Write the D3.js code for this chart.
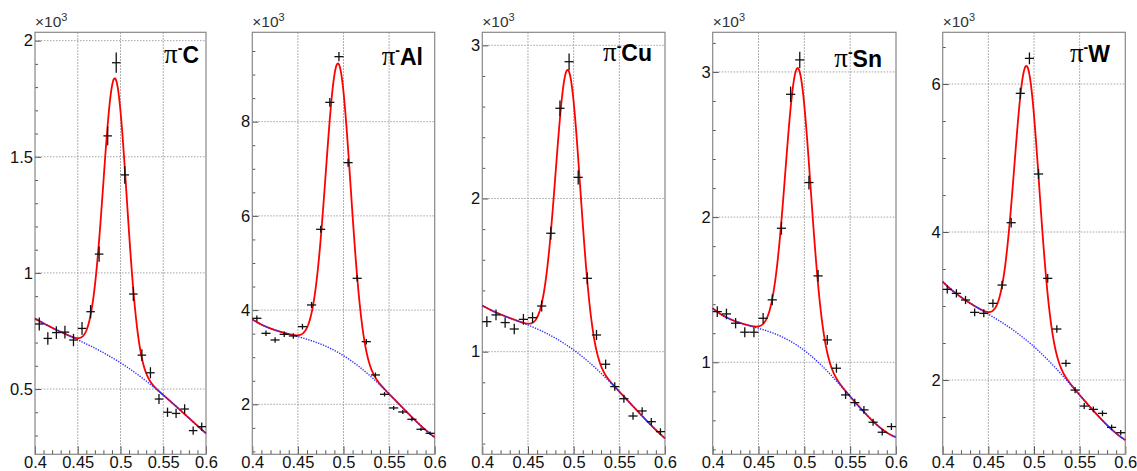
<!DOCTYPE html>
<html>
<head>
<meta charset="utf-8">
<script src="https://cdn.jsdelivr.net/npm/d3@7.9.0/dist/d3.min.js"></script>
<style>
  body { margin: 0; background: #fff; }
  svg { display: block; font-family: "Liberation Sans", Arial, sans-serif; }
</style>
</head>
<body>
<svg id="chart" width="1137" height="471"></svg>
<script>
// invariant mass bins (GeV), 0.01 wide
const targets = ['C', 'Al', 'Cu', 'Sn', 'W'];
const binCenters = [0.405, 0.415, 0.425, 0.435, 0.445, 0.455, 0.465, 0.475, 0.485, 0.495,
                    0.505, 0.515, 0.525, 0.535, 0.545, 0.555, 0.565, 0.575, 0.585, 0.595];

const countsC  = [780, 718, 743, 745, 711, 761, 833, 1081, 1590, 1905,
                  1422, 909, 646, 570, 457, 400, 395, 414, 321, 338];
const countsAl = [3826, 3507, 3366, 3486, 3451, 3649, 4109, 5715, 8410, 9380,
                  7130, 4675, 3330, 2623, 2213, 1923, 1838, 1682, 1470, 1385];
const countsCu = [1196, 1240, 1190, 1148, 1211, 1222, 1298, 1773, 2589, 2893,
                  2138, 1479, 1109, 918, 772, 693, 580, 613, 543, 478];
const countsSn = [1349, 1333, 1269, 1207, 1207, 1303, 1430, 1923, 2846, 3083,
                  2238, 1595, 1154, 959, 775, 722, 672, 587, 518, 557];
const countsW  = [3225, 3171, 3081, 2914, 2901, 3036, 3283, 4126, 5874, 6347,
                  4784, 3374, 2689, 2225, 1864, 1648, 1603, 1549, 1360, 1288];
const allCounts = [countsC, countsAl, countsCu, countsSn, countsW];

// fit: gaussian peak + pol4 background in t = (m - 0.5) / 0.1
const peakAmp   = [1210, 6136, 1802, 1913, 3709];
const peakMean  = [0.4936, 0.4942, 0.4938, 0.4931, 0.4921];
const peakSigma = [0.0136, 0.0135, 0.0134, 0.0137, 0.0135];
const bkgC  = [613, -234.8, -87.8, -12.7, 31.3];
const bkgAl = [3033, -1205.2, -930.5, -47.3, 450];
const bkgCu = [1011, -435.5, -242.8, 2, 99.3];
const bkgSn = [1081, -478.7, -386.3, 34.7, 233.3];
const bkgW  = [2450, -1100.7, -504.3, 30.7, 313.3];
const allBkg = [bkgC, bkgAl, bkgCu, bkgSn, bkgW];

// axes
const xRange = [0.4, 0.6];
const xMajor = [0.4, 0.45, 0.5, 0.55, 0.6];
const yDomains = [[219, 2036], [939, 9897], [330, 3085], [366, 3273], [996, 6699]];
const yMajor = [[500, 1000, 1500, 2000], [2000, 4000, 6000, 8000], [1000, 2000, 3000],
                [1000, 2000, 3000], [2000, 4000, 6000]];
const yMinorStep = [100, 500, 200, 200, 500];

// pad layout (px)
const frameLeft  = [35, 252.3, 482.3, 712.7, 942.7];
const frameRight = [206, 434.7, 665, 896, 1125.3];
const frameTop = 32.3, frameBottom = 454.3;
const titleRight = [199, 423, 652, 882, 1110];
const titleBase  = [63, 65, 61, 66.5, 62];

const svg = d3.select('#chart');

function bkgAt(c, m) {
  const t = (m - 0.5) / 0.1;
  return c[0] + c[1] * t + c[2] * t * t + c[3] * t * t * t + c[4] * t * t * t * t;
}

targets.forEach((name, i) => {
  const x = d3.scaleLinear().domain(xRange).range([frameLeft[i], frameRight[i]]);
  const y = d3.scaleLinear().domain(yDomains[i]).range([frameBottom, frameTop]);
  const g = svg.append('g');

  // grid
  g.selectAll('line.gx')
    .data(xMajor.slice(1, -1))
    .join('line')
    .attr('x1', d => x(d)).attr('x2', d => x(d))
    .attr('y1', frameTop).attr('y2', frameBottom)
    .attr('stroke', '#8a8a8a').attr('stroke-width', 0.9)
    .attr('stroke-dasharray', '1.5,1.5');
  g.selectAll('line.gy')
    .data(yMajor[i])
    .join('line')
    .attr('x1', frameLeft[i]).attr('x2', frameRight[i])
    .attr('y1', d => y(d)).attr('y2', d => y(d))
    .attr('stroke', '#9a9a9a').attr('stroke-width', 0.9)
    .attr('stroke-dasharray', '1.5,1.5');

  // x axis (ticks inside frame)
  const xMinor = d3.range(40, 61).filter(k => k % 5 !== 0).map(k => k / 100);
  const xAxisG = g.append('g').attr('transform', `translate(0,${frameBottom})`);
  xAxisG.call(d3.axisBottom(x).tickValues(xMajor).tickSize(-8).tickPadding(1.5)
    .tickFormat(d3.format('~g')));
  xAxisG.append('g').call(d3.axisBottom(x).tickValues(xMinor).tickSize(-4).tickFormat(''))
    .select('.domain').remove();
  xAxisG.select('.domain').remove();

  // y axis
  const [lo, hi] = yDomains[i];
  const step = yMinorStep[i];
  const yMinor = d3.range(Math.ceil(lo / step), Math.floor(hi / step) + 1)
    .map(k => k * step)
    .filter(v => !yMajor[i].includes(v));
  const yAxisG = g.append('g').attr('transform', `translate(${frameLeft[i]},0)`);
  yAxisG.call(d3.axisLeft(y).tickValues(yMajor[i]).tickSize(-6).tickPadding(2)
    .tickFormat(d => d3.format('~g')(d / 1000)));
  yAxisG.append('g').call(d3.axisLeft(y).tickValues(yMinor).tickSize(-3).tickFormat(''))
    .select('.domain').remove();
  yAxisG.select('.domain').remove();

  svg.selectAll('.tick line').attr('stroke', '#555');
  g.selectAll('.tick text').attr('font-size', 16.5).attr('fill', '#111')
    .attr('font-family', '"Liberation Sans", Arial, sans-serif');

  // frame
  g.append('rect')
    .attr('x', frameLeft[i]).attr('y', frameTop)
    .attr('width', frameRight[i] - frameLeft[i]).attr('height', frameBottom - frameTop)
    .attr('fill', 'none').attr('stroke', '#888').attr('stroke-width', 1.2);

  // x10^3 label
  const exp = g.append('text')
    .attr('x', frameLeft[i]).attr('y', 27)
    .attr('font-size', 15.5).attr('fill', '#333');
  exp.append('tspan').text('\u00d710');
  exp.append('tspan').attr('dy', -6).attr('font-size', 11).text('3');

  // fit curves
  const ms = d3.range(0, 401).map(k => xRange[0] + k * (xRange[1] - xRange[0]) / 400);
  const c = allBkg[i];
  const total = m => bkgAt(c, m) +
    peakAmp[i] * Math.exp(-0.5 * Math.pow((m - peakMean[i]) / peakSigma[i], 2));

  g.append('path')
    .attr('d', d3.line().x(m => x(m)).y(m => y(total(m)))(ms))
    .attr('fill', 'none').attr('stroke', '#ff0000').attr('stroke-width', 1.8);
  g.append('path')
    .attr('d', d3.line().x(m => x(m)).y(m => y(bkgAt(c, m)))(ms))
    .attr('fill', 'none').attr('stroke', '#2a2aff').attr('stroke-width', 1.4)
    .attr('stroke-dasharray', '1.3,1.3');

  // data points with errors
  const pts = binCenters.map((m, k) => ({ m, n: allCounts[i][k] }));
  const pg = g.append('g').attr('stroke', '#111').attr('stroke-width', 1.3);
  pg.selectAll('line.h')
    .data(pts)
    .join('line')
    .attr('x1', d => x(d.m - 0.005)).attr('x2', d => x(d.m + 0.005))
    .attr('y1', d => y(d.n)).attr('y2', d => y(d.n));
  pg.selectAll('line.v')
    .data(pts)
    .join('line')
    .attr('x1', d => x(d.m)).attr('x2', d => x(d.m))
    .attr('y1', d => y(d.n - Math.sqrt(d.n))).attr('y2', d => y(d.n + Math.sqrt(d.n)));

  // title
  const t = g.append('text')
    .attr('x', titleRight[i]).attr('y', titleBase[i])
    .attr('text-anchor', 'end').attr('fill', '#000');
  t.append('tspan').attr('font-family', '"Liberation Serif", "DejaVu Serif", serif')
    .attr('font-size', 27).text('\u03c0');
  t.append('tspan').attr('dy', -10).attr('font-size', 14).attr('font-weight', 'bold').text('-');
  t.append('tspan').attr('dy', 10).attr('font-size', 23).attr('font-weight', 'bold').text(name);
});
</script>
</body>
</html>
